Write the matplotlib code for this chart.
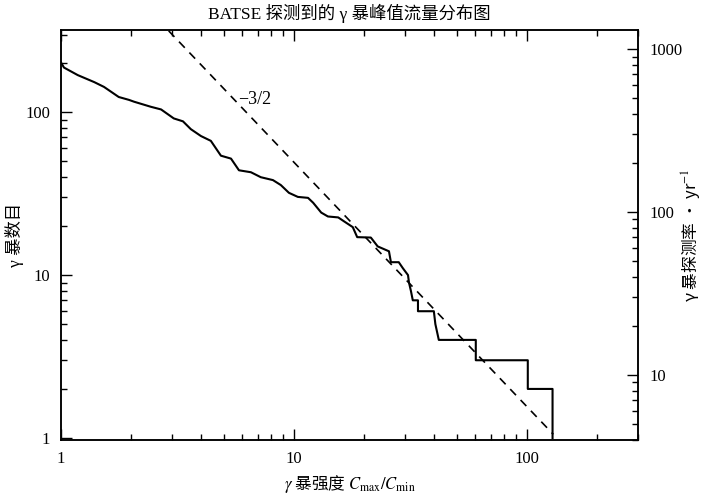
import matplotlib
matplotlib.use("Agg")
import matplotlib.pyplot as plt
import numpy as np
from matplotlib.ticker import LogLocator, NullFormatter, FixedLocator, FixedFormatter

plt.rcParams['mathtext.fontset'] = 'stix'

# cumulative burst counts N(>C) against peak intensity Cmax/Cmin
cmax_ratio = [1.0, 1.03, 1.18, 1.39, 1.53, 1.77, 1.96, 2.06, 2.43, 2.69,
              3.05, 3.34, 3.61, 3.99, 4.40, 4.86, 5.37, 5.81, 6.54, 7.21,
              8.13, 8.79, 9.52, 10.4, 11.5, 12.1, 13.1, 14.0, 15.5, 16.4,
              17.9, 18.7, 21.4, 22.9, 25.6, 26.1, 28.2, 29.4, 30.9, 31.2,
              31.8, 32.4, 34.1, 34.1, 39.9, 40.5, 41.9, 60.4, 60.4, 101.0,
              101.0, 129.0, 129.0]
burst_count = [202, 188, 169, 153, 143, 124, 119, 116, 108, 104,
               91.6, 87.9, 78.7, 71.4, 66.7, 54.1, 51.9, 44.0, 42.8, 39.9,
               38.3, 35.7, 32.0, 30.2, 29.8, 27.8, 24.2, 22.9, 22.6, 21.4,
               19.7, 17.1, 17, 15, 14, 12, 12, 11, 10, 9,
               8, 7, 7, 6, 6, 5, 4, 4, 3, 3,
               2, 2, 1]

# Euclidean -3/2 reference slope
ref_norm = 1560.0
ref_slope = -1.5
ref_range = [2.9, 130.0]

# left axis counts -> right axis rate
rate_factor = 4.1
y_range = [0.97, 320.0]
x_range = [1.0, 300.0]

serif = ['Liberation Serif', 'Noto Sans CJK SC']
cjk = ['Noto Sans CJK SC', 'DejaVu Sans']

fig = plt.figure(figsize=(7.01, 4.99), dpi=100)
ax = fig.add_axes([0.087, 0.118, 0.823, 0.822])

ax.plot(cmax_ratio, burst_count, color='black', lw=1.5)

xr = np.geomspace(ref_range[0], ref_range[1], 100)
ax.plot(xr, ref_norm * xr ** ref_slope, color='black', lw=1.2, ls=(0, (5, 4)))
ax.text(6.8, 120, '−3/2', family=serif, fontsize=13, ha='center', va='center')

ax.set_xscale('log')
ax.set_yscale('log')
ax.set_xlim(*x_range)
ax.set_ylim(*y_range)

ax.xaxis.set_major_locator(FixedLocator([1, 10, 100]))
ax.xaxis.set_major_formatter(FixedFormatter(['1', '10', '100']))
ax.xaxis.set_minor_locator(LogLocator(base=10, subs=np.arange(2, 10)))
ax.xaxis.set_minor_formatter(NullFormatter())
ax.yaxis.set_major_locator(FixedLocator([1, 10, 100]))
ax.yaxis.set_major_formatter(FixedFormatter(['1', '10', '100']))
ax.yaxis.set_minor_locator(LogLocator(base=10, subs=np.arange(2, 10)))
ax.yaxis.set_minor_formatter(NullFormatter())

ax.tick_params(which='both', direction='in', top=True, right=False, width=1.0)
ax.tick_params(which='major', length=8)
ax.tick_params(which='minor', length=4)
ax.tick_params(axis='x', which='major', pad=8)
ax.tick_params(axis='y', which='major', pad=8)
for lab in ax.get_xticklabels() + ax.get_yticklabels():
    lab.set_family(serif)
    lab.set_fontsize(12)

ax2 = ax.twinx()
ax2.set_yscale('log')
ax2.set_ylim(y_range[0] * rate_factor, y_range[1] * rate_factor)
ax2.yaxis.set_major_locator(FixedLocator([10, 100, 1000]))
ax2.yaxis.set_major_formatter(FixedFormatter(['10', '100', '1000']))
ax2.yaxis.set_minor_locator(LogLocator(base=10, subs=np.arange(2, 10)))
ax2.yaxis.set_minor_formatter(NullFormatter())
ax2.tick_params(which='both', direction='in', width=1.0)
ax2.tick_params(which='major', length=8, pad=8)
ax2.tick_params(which='minor', length=4)
for lab in ax2.get_yticklabels():
    lab.set_family(serif)
    lab.set_fontsize(12)

for a in (ax, ax2):
    for sp in a.spines.values():
        sp.set_linewidth(1.1)

ax.set_title('BATSE 探测到的 γ 暴峰值流量分布图', family=serif, fontsize=12.5, pad=8)
ax.set_xlabel('$\\gamma$ 暴强度 $C_{\\rm max}/C_{\\rm min}$', family=cjk, fontsize=12, labelpad=4)
ax.set_ylabel('γ 暴数目', family=serif, fontsize=12.5, labelpad=1)
ax2.set_ylabel('γ 暴探测率 · yr$^{-1}$', family=cjk, fontsize=12)
ax2.yaxis.set_label_coords(1.071, 0.5)

fig.savefig('out.png', dpi=100)
